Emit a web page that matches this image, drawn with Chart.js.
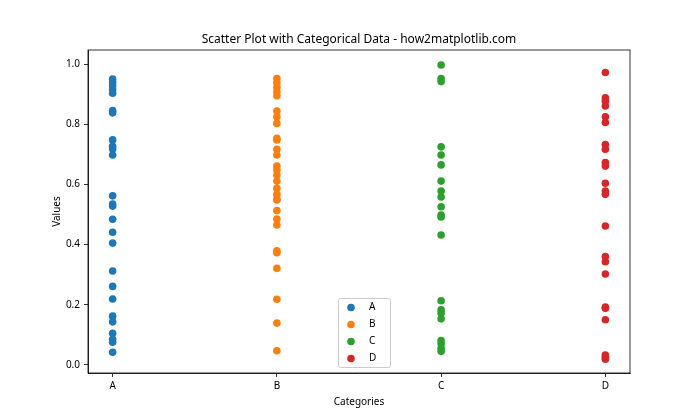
<!DOCTYPE html>
<html><head><meta charset="utf-8">
<script src="https://cdn.jsdelivr.net/npm/chart.js@4"></script>
<style>html,body{margin:0;padding:0;background:#fff}#wrap{width:700px;height:420px}</style>
</head><body><div id="wrap"><canvas id="c" width="700" height="420"></canvas></div>
<script>
const categories = ['A','B','C','D'];
const valuesA = [0.950,0.939,0.928,0.916,0.903,0.846,0.838,0.748,0.727,0.718,0.698,0.562,0.535,0.528,0.484,0.441,0.405,0.312,0.261,0.219,0.162,0.143,0.105,0.085,0.075,0.042];
const valuesB = [0.952,0.938,0.923,0.908,0.895,0.844,0.825,0.803,0.753,0.748,0.717,0.698,0.661,0.648,0.631,0.611,0.587,0.567,0.551,0.548,0.513,0.485,0.465,0.379,0.373,0.321,0.218,0.139,0.047];
const valuesC = [0.997,0.952,0.942,0.725,0.698,0.665,0.611,0.578,0.558,0.526,0.498,0.492,0.432,0.213,0.183,0.172,0.153,0.081,0.070,0.055,0.045];
const valuesD = [0.972,0.888,0.877,0.861,0.825,0.806,0.733,0.717,0.673,0.661,0.604,0.578,0.567,0.462,0.360,0.343,0.302,0.192,0.188,0.150,0.033,0.025,0.019];
const yTicks = [0,0.2,0.4,0.6,0.8,1.0];
const colors = ['#1f77b4','#ff7f0e','#2ca02c','#d62728'];
const titleText = 'Scatter Plot with Categorical Data - how2matplotlib.com';
const FONT = 'Noto Sans';

const seriesValues = [valuesA, valuesB, valuesC, valuesD];
const datasets = categories.map((cat, i) => ({
  label: cat,
  data: seriesValues[i].map(v => ({x: i, y: v})),
  backgroundColor: colors[i],
  borderColor: colors[i],
  pointRadius: 3.8,
  pointHoverRadius: 3.8,
  borderWidth: 0
}));

const framePlugin = {
  id: 'frame',
  afterDraw(chart) {
    const {ctx, chartArea: a} = chart;
    ctx.save();
    ctx.strokeStyle = '#000';
    ctx.lineWidth = 0.8;
    ctx.strokeRect(a.left, a.top, a.right - a.left, a.bottom - a.top);
    // title centred over the axes
    ctx.fillStyle = '#000';
    ctx.font = '12px "' + FONT + '"';
    ctx.textAlign = 'center';
    ctx.textBaseline = 'middle';
    ctx.fillText(titleText, (a.left + a.right) / 2, a.top - 10);
    // legend
    const bx = 338, by = 298, bw = 52, bh = 69;
    ctx.fillStyle = 'rgba(255,255,255,0.8)';
    ctx.strokeStyle = '#cccccc';
    ctx.lineWidth = 1;
    ctx.beginPath();
    ctx.roundRect(bx + 0.5, by + 0.5, bw, bh, 2);
    ctx.fill(); ctx.stroke();
    ctx.font = '10px "' + FONT + '"';
    ctx.textBaseline = 'middle';
    ctx.textAlign = 'left';
    categories.forEach((cat, i) => {
      const yy = by + 9.5 + i * 17;
      ctx.fillStyle = colors[i];
      ctx.beginPath(); ctx.arc(bx + 13, yy, 3.8, 0, Math.PI * 2); ctx.fill();
      ctx.fillStyle = '#000';
      ctx.fillText(cat, bx + 31, yy);
    });
    ctx.restore();
  }
};

new Chart(document.getElementById('c'), {
  type: 'scatter',
  data: { datasets },
  plugins: [framePlugin],
  options: {
    responsive: false,
    animation: false,
    devicePixelRatio: 1,
    layout: { padding: { left: 51, right: 70, top: 50, bottom: 12 } },
    plugins: {
      legend: { display: false },
      tooltip: { enabled: false },
      title: { display: false }
    },
    scales: {
      x: {
        type: 'linear',
        min: -0.15, max: 3.15,
        afterBuildTicks: s => { s.ticks = categories.map((c, i) => ({value: i})); },
        afterFit: s => { s.height = 35; },
        ticks: {
          callback: v => categories[v] ?? '',
          color: '#000', font: { family: FONT, size: 10 }, padding: 3, maxRotation: 0
        },
        grid: { display: true, drawOnChartArea: false, tickLength: 4, color: '#000', lineWidth: 0.8 },
        border: { display: true, color: '#000', width: 0.8 },
        title: { display: true, text: 'Categories', color: '#000', font: { family: FONT, size: 10 }, padding: { top: 0, bottom: 0 } }
      },
      y: {
        type: 'linear',
        min: -0.027, max: 1.047,
        afterBuildTicks: s => { s.ticks = yTicks.map(v => ({value: v})); },
        afterFit: s => { s.width = 37; },
        ticks: {
          callback: v => Number(v).toFixed(1),
          color: '#000', font: { family: FONT, size: 10 }, padding: 4
        },
        grid: { display: true, drawOnChartArea: false, tickLength: 4, color: '#000', lineWidth: 0.8 },
        border: { display: true, color: '#000', width: 0.8 },
        title: { display: true, text: 'Values', color: '#000', font: { family: FONT, size: 10 }, padding: { top: 0, bottom: 0 } }
      }
    }
  }
});
</script>
</body></html>
